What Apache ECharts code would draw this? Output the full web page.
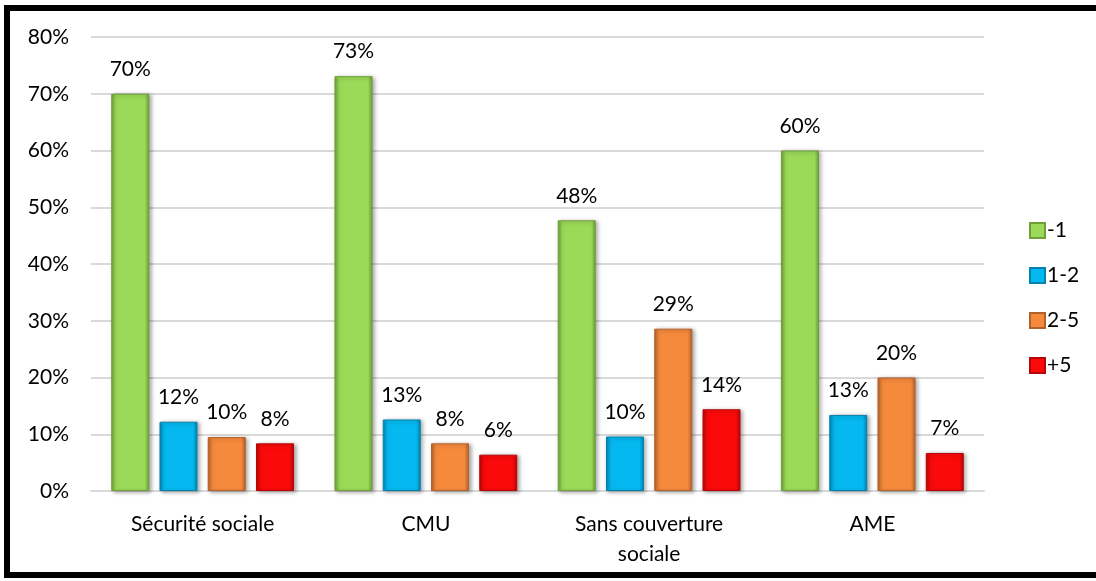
<!DOCTYPE html>
<html>
<head>
<meta charset="utf-8">
<script src="https://cdn.jsdelivr.net/npm/echarts@6/dist/echarts.min.js"></script>
<style>
html,body{margin:0;padding:0;background:#fff;}
#chart{width:1096px;height:581px;}
</style>
</head>
<body>
<div id="chart"></div>
<script>
const categories = ['Sécurité sociale', 'CMU', 'Sans couverture\nsociale', 'AME'];
const seriesNames = ['-1', '1-2', '2-5', '+5'];
const valMinus1 = [70, 73.1, 47.7, 60];
const val1to2 = [12.2, 12.6, 9.6, 13.4];
const val2to5 = [9.5, 8.4, 28.6, 20];
const valPlus5 = [8.4, 6.4, 14.4, 6.7];
const yTicks = [0, 10, 20, 30, 40, 50, 60, 70, 80];

const seriesValues = [valMinus1, val1to2, val2to5, valPlus5];
const baseColors = ['#9BDA58', '#05B9F0', '#F68A3C', '#FA0A0A'];
const darkColors = ['#6E9F38', '#0383AE', '#B2612A', '#B80606'];

const FONT = 'Lato, "Open Sans", sans-serif';
const FS = 21;

function gradient(i) {
  return new echarts.graphic.LinearGradient(0, 0, 1, 0, [
    {offset: 0, color: darkColors[i]},
    {offset: 0.12, color: baseColors[i]},
    {offset: 0.5, color: baseColors[i]},
    {offset: 0.88, color: baseColors[i]},
    {offset: 1, color: darkColors[i]}
  ]);
}

const chart = echarts.init(document.getElementById('chart'), null, {renderer: 'canvas'});
const option = {
  animation: false,
  backgroundColor: '#fff',
  color: baseColors,
  textStyle: {fontFamily: FONT},
  graphic: [{
    type: 'rect',
    shape: {x: 7, y: 8, width: 1300, height: 567},
    style: {fill: 'none', stroke: '#000', lineWidth: 6},
    silent: true,
    z: 100
  }],
  grid: {left: 91, right: 112, top: 37, bottom: 90, containLabel: false},
  legend: {
    orient: 'vertical',
    left: 1024,
    top: 215,
    itemWidth: 15,
    itemHeight: 15,
    itemGap: 24,
    icon: 'rect',
    textStyle: {fontSize: FS, color: '#000', fontFamily: FONT, padding: [0, 0, 0, -3]},
    data: seriesNames
  },
  xAxis: {
    type: 'category',
    data: categories,
    axisLine: {show: true, lineStyle: {color: '#D9D9D9', width: 2}},
    axisTick: {show: false},
    axisLabel: {fontSize: FS, color: '#000', margin: 18, lineHeight: 30, fontFamily: FONT}
  },
  yAxis: {
    type: 'value',
    min: yTicks[0],
    max: yTicks[yTicks.length - 1],
    interval: 10,
    axisLine: {show: false},
    axisTick: {show: false},
    splitLine: {lineStyle: {color: '#D9D9D9', width: 2}},
    axisLabel: {fontSize: FS, color: '#000', margin: 22, fontFamily: FONT, formatter: v => v + '%'}
  },
  series: seriesValues.map((vals, i) => ({
    name: seriesNames[i],
    type: 'bar',
    data: vals,
    barWidth: 38,
    barGap: '27%',
    itemStyle: {
      color: gradient(i),
      borderColor: darkColors[i],
      borderWidth: 1,
      shadowColor: 'rgba(0,0,0,0.35)',
      shadowBlur: 4,
      shadowOffsetX: 2,
      shadowOffsetY: 1
    },
    label: {
      show: true,
      position: 'top',
      distance: 14,
      fontSize: FS,
      color: '#000',
      fontFamily: FONT,
      formatter: p => Math.round(p.value) + '%'
    }
  }))
};
chart.setOption(option);
</script>
</body>
</html>
